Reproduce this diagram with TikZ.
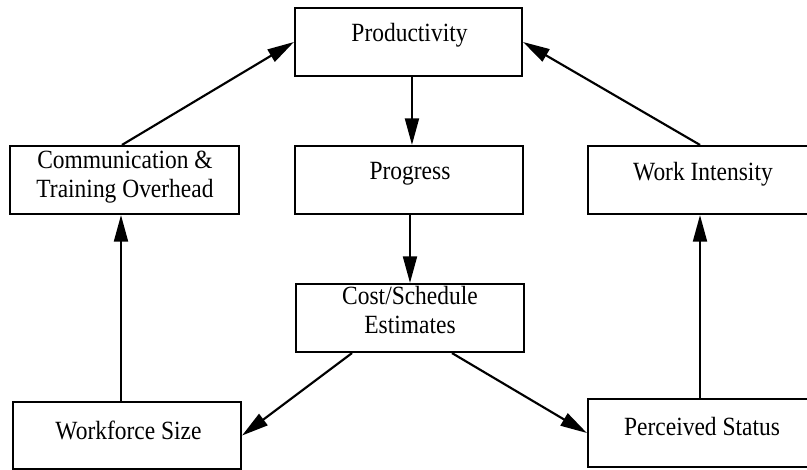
\documentclass[tikz,border=0pt]{standalone}
\usepackage{fontspec}
\setmainfont{Liberation Serif}
\usetikzlibrary{arrows.meta}
\newcommand{\tall}[1]{\scalebox{1}[1.12]{#1}}
\begin{document}
\begin{tikzpicture}[x=0.75pt,y=-0.75pt,
  box/.style={draw,line width=1.6pt,rectangle,inner sep=0pt,minimum height=51pt},
  txt/.style={inner sep=0pt,font=\fontsize{17.6}{20}\selectfont,align=center},
  arr/.style={line width=1.6pt,-{Triangle[length=20pt,width=10.5pt]}}]
\useasboundingbox (0,0) rectangle (807,469);
% boxes
\node[box,minimum width=170.25pt] (prod) at (408.5,42) {};
\node[box,minimum width=171.75pt] (comm) at (124.5,180) {};
\node[box,minimum width=171pt] (prog) at (409,180) {};
\node[box,minimum width=171pt] (wi) at (702,180) {};
\node[box,minimum width=171pt] (cost) at (410,318) {};
\node[box,minimum width=171pt,minimum height=50.25pt] (wf) at (127,435.5) {};
\node[box,minimum width=171pt] (ps) at (702,433) {};
% texts
\node[txt] (tprod) at (409.5,35) {\tall{Productivity}};
\node[txt] (tprog) at (410,174) {\tall{Progress}};
\node[txt] (twi) at (703,174) {\tall{Work Intensity}};
\node[txt] (tcomm) at (125,177) {\tall{\begin{tabular}{@{}c@{}}Communication \&\\Training Overhead\end{tabular}}};
\node[txt] (tcost) at (410,313) {\tall{\begin{tabular}{@{}c@{}}Cost/Schedule\\Estimates\end{tabular}}};
\node[txt] (twf) at (128.5,430) {\tall{Workforce Size}};
\node[txt] (tps) at (702,426) {\tall{Perceived Status}};
% connectors
\draw[arr] ([xshift=2.6pt]prod.south) -- ([xshift=2.6pt]prod.south |- prog.north);
\draw[arr] ([xshift=0.75pt]prog.south) -- ([xshift=0.75pt]prog.south |- cost.north);
\draw[arr] ([xshift=-43.5pt]cost.south) -- (wf.east);
\draw[arr] ([xshift=31.5pt]cost.south) -- (ps.west);
\draw[arr] ([xshift=-4.5pt]wf.north) -- ([xshift=-4.5pt]wf.north |- comm.south);
\draw[arr] ([xshift=-1.5pt]ps.north) -- ([xshift=-1.5pt]ps.north |- wi.south);
\draw[arr] ([xshift=-1.9pt]comm.north) -- (prod.west);
\draw[arr] ([xshift=-1.5pt]wi.north) -- (prod.east);
\end{tikzpicture}
\end{document}
